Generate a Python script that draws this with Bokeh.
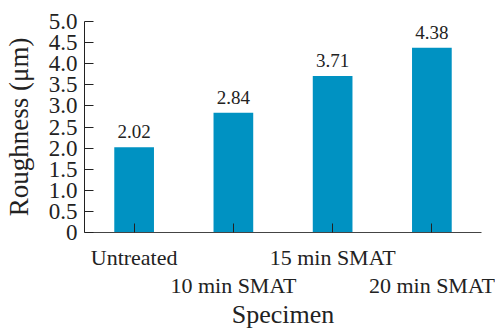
from bokeh.plotting import figure
from bokeh.models import ColumnDataSource, FixedTicker, LabelSet, LinearAxis, Range1d
from bokeh.embed import file_html
from bokeh.resources import INLINE

categories = ["Untreated", "10 min SMAT", "15 min SMAT", "20 min SMAT"]
roughness = [2.02, 2.84, 3.71, 4.38]
value_labels = ["2.02", "2.84", "3.71", "4.38"]
y_ticks = [0, 0.5, 1.0, 1.5, 2.0, 2.5, 3.0, 3.5, 4.0, 4.5, 5.0]

FONT = "Liberation Serif"
INK = "#222222"

# category slot centres on a numeric axis (0.5, 1.5, ...)
xpos = [i + 0.5 for i in range(len(categories))]
src = ColumnDataSource(dict(x=xpos, val=roughness, lab=value_labels))

p = figure(x_range=Range1d(0, len(categories)), y_range=(0, 5.0), width=495, height=331,
           output_backend="svg", toolbar_location=None,
           min_border_left=83, min_border_right=14, min_border_top=21, min_border_bottom=98)
p.outline_line_color = None
p.xgrid.grid_line_color = None
p.ygrid.grid_line_color = None

p.vbar(x="x", top="val", width=0.4, source=src, color="#0092c2", line_color=None)

labels = LabelSet(x="x", y="val", text="lab", source=src, text_align="center",
                  text_baseline="bottom", y_offset=9, text_font=FONT,
                  text_font_size="19px", text_color=INK)
p.add_layout(labels)

yax = p.yaxis[0]
yax.ticker = FixedTicker(ticks=y_ticks)
yax.major_label_overrides = {t: ("0" if t == 0 else f"{t:.1f}") for t in y_ticks}
yax.major_tick_in = 9
yax.major_tick_out = 0
yax.minor_tick_in = 0
yax.minor_tick_out = 0
yax.major_label_standoff = 7
yax.major_label_text_font = FONT
yax.major_label_text_font_size = "23px"
yax.major_label_text_color = INK
yax.axis_line_color = INK
yax.major_tick_line_color = INK
yax.axis_label = "Roughness (μm)"
yax.axis_label_text_font = FONT
yax.axis_label_text_font_size = "27px"
yax.axis_label_text_font_style = "normal"
yax.axis_label_text_color = INK
yax.axis_label_standoff = 12

# staggered category labels: alternate categories on a first and a second row
row1 = {x: (c if i % 2 == 0 else "") for i, (x, c) in enumerate(zip(xpos, categories))}
row2 = {x: c for i, (x, c) in enumerate(zip(xpos, categories)) if i % 2 == 1}

xax = p.xaxis[0]
xax.ticker = FixedTicker(ticks=xpos, minor_ticks=[])
xax.major_label_overrides = row1
xax.major_tick_in = 9
xax.major_tick_out = 0
xax.minor_tick_in = 0
xax.minor_tick_out = 0
xax.major_label_standoff = 12
xax.major_label_text_font = FONT
xax.major_label_text_font_size = "22px"
xax.major_label_text_color = INK
xax.axis_line_color = "#444444"
xax.major_tick_line_color = INK

xax2 = LinearAxis(ticker=FixedTicker(ticks=list(row2.keys()), minor_ticks=[]),
                  major_label_overrides=row2)
xax2.axis_line_color = None
xax2.major_tick_line_color = None
xax2.minor_tick_line_color = None
xax2.major_tick_in = 0
xax2.major_tick_out = 0
xax2.major_label_standoff = 0
xax2.major_label_text_font = FONT
xax2.major_label_text_font_size = "22px"
xax2.major_label_text_color = INK
xax2.axis_label = "Specimen"
xax2.axis_label_text_font = FONT
xax2.axis_label_text_font_size = "26px"
xax2.axis_label_text_font_style = "normal"
xax2.axis_label_text_color = INK
xax2.axis_label_standoff = -1
p.add_layout(xax2, "below")

open("out.html", "w").write(file_html(p, INLINE))
